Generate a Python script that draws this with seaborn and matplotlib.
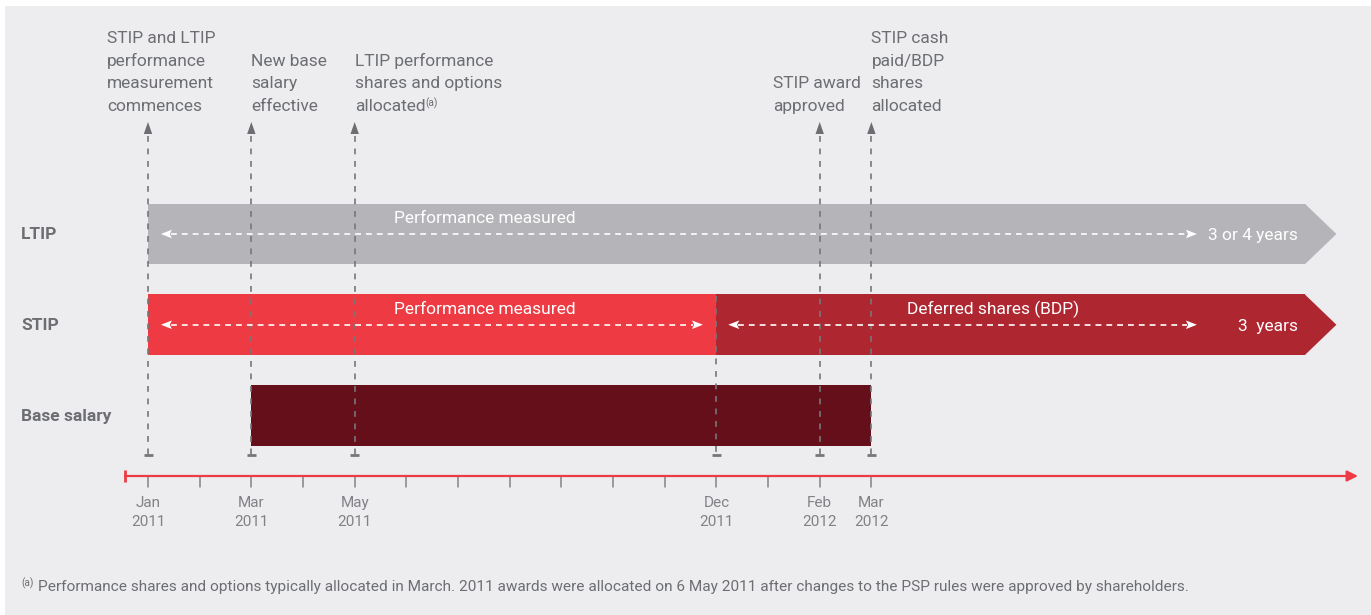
import matplotlib
matplotlib.use("Agg")
import matplotlib.pyplot as plt
from matplotlib import font_manager
from matplotlib.patches import Polygon, Rectangle
import seaborn as sns

# ---------------- data ----------------
rows = ["LTIP", "STIP", "Base salary"]

bar_rows = ["LTIP", "STIP", "STIP", "Base salary"]
bar_start = [0, 0, 11, 2]            # months after Jan 2011
bar_end = [22.4, 11, 22.4, 14]
bar_chevron = [True, False, True, False]
bar_colors = ["#B5B4B8", "#EE3A43", "#AE2630", "#650F1A"]
bar_labels = ["Performance measured", "Performance measured", "Deferred shares (BDP)", ""]
bar_label_x = [6.52, 6.52, 16.36, 0]

span_rows = ["LTIP", "STIP", "STIP"]
span_start = [0.25, 0.25, 11.23]
span_end = [20.3, 10.74, 20.3]

duration_rows = ["LTIP", "STIP"]
duration_labels = ["3 or 4 years", "3  years"]
duration_x = [22.26, 22.26]

event_months = [0, 2, 4, 13, 14]
event_labels = [
    "STIP and LTIP\nperformance\nmeasurement\ncommences",
    "New base\nsalary\neffective",
    "LTIP performance\nshares and options\nallocated",
    "STIP award\napproved",
    "STIP cash\npaid/BDP\nshares\nallocated",
]
event_sup = ["", "", "(a)", "", ""]
event_text_dx = [-41, 0, 0, -47, 0]   # px offset of text from its event line

split_month = 11   # Dec 2011: STIP performance ends / deferral begins

tick_months = list(range(15))
tick_labels = ["Jan\n2011", "", "Mar\n2011", "", "May\n2011", "", "", "", "", "", "",
               "Dec\n2011", "", "Feb\n2012", "Mar\n2012"]

footnote_mark = "(a)"
footnote = ("Performance shares and options typically allocated in March. 2011 awards were "
            "allocated on 6 May 2011 after changes to the PSP rules were approved by shareholders.")

# ---------------- style ----------------
sns.set_theme(style="white")
names = {f.name for f in font_manager.fontManager.ttflist}
if "Liberation Sans Narrow" in names:
    FONT, SC = "Liberation Sans Narrow", 1.0
else:
    FONT, SC = "Roboto", 0.86
plt.rcParams["font.family"] = [FONT, "DejaVu Sans"]

BG = "#EDEDF0"
TXT = "#6D6E71"
TICK_TXT = "#808285"
LINE = "#76777A"
RED = "#EE3A43"

W, H = 1371, 615
fig = plt.figure(figsize=(W / 100, H / 100), dpi=100, facecolor="white")
fig.patches.append(Rectangle((5 / W, 0), 1, (H - 6) / H, transform=fig.transFigure,
                             facecolor=BG, edgecolor="none", zorder=-10))
ax = fig.add_axes([0, 0, 1, 1])
ax.set_facecolor("none")
ax.set_zorder(5)
ax.axis("off")

X0, XS = 148, 51.67
RY0, RS = 234, 90.75
def mx(px): return (px - X0) / XS
def dmx(px): return px / XS
def ry(py): return (py - RY0) / RS
def dry(py): return py / RS

ax.set_xlim(mx(0), mx(W))
ax.set_ylim(ry(H), ry(0))
ridx = {r: i for i, r in enumerate(rows)}

# row labels
for r in rows:
    ax.text(mx(21), ridx[r] + dry(1), r, ha="left", va="center", fontsize=14.5 * SC,
            fontweight="bold", color=TXT)

# bars
bh = dry(60.5)
for r, s, e, chev, c in zip(bar_rows, bar_start, bar_end, bar_chevron, bar_colors):
    y = ridx[r]
    ax.barh(y, e - s, left=s, height=bh, color=c, edgecolor="none", zorder=2)
    if chev:
        ax.add_patch(Polygon([(e - 0.01, y - bh / 2), (e + dmx(31), y), (e - 0.01, y + bh / 2)],
                             closed=True, facecolor=c, edgecolor="none", zorder=2))

for r, lab, lx in zip(bar_rows, bar_labels, bar_label_x):
    if lab:
        ax.text(lx, ridx[r] - dry(10.5), lab, color="white", ha="center", va="baseline",
                fontsize=14.5 * SC, zorder=6)

# white dashed period arrows
def head(xtip, y, direction, color, zorder):
    L, hh = dmx(11), dry(4.3)
    ax.add_patch(Polygon([(xtip, y), (xtip - direction * L, y - hh), (xtip - direction * L * 0.8, y),
                          (xtip - direction * L, y + hh)], closed=True,
                         facecolor=color, edgecolor="none", zorder=zorder))

for r, s, e in zip(span_rows, span_start, span_end):
    y = ridx[r]
    ax.plot([s + dmx(10), e - dmx(10)], [y, y], color="white", lw=1.2,
            ls=(0, (3.5, 3)), zorder=6)
    head(s, y, -1, "white", 6)
    head(e, y, 1, "white", 6)

for r, lab, dx in zip(duration_rows, duration_labels, duration_x):
    ax.text(dx, ridx[r] + dry(6.5), lab, color="white", ha="right", va="baseline",
            fontsize=14.5 * SC, zorder=6)

# event lines
for m in event_months:
    ax.plot([m, m], [ry(136), ry(455)], color=LINE, lw=1.2, ls=(0, (3.5, 4)), zorder=5)
    ax.add_patch(Polygon([(m, ry(122)), (m - dmx(4.2), ry(134)), (m + dmx(4.2), ry(134))],
                         closed=True, facecolor=TXT, edgecolor="none", zorder=5))
ax.plot([split_month, split_month], [ry(296), ry(455)], color=LINE, lw=1.2,
        ls=(0, (3.5, 4)), zorder=5)
for m in event_months + [split_month]:
    ax.plot([m - dmx(4.5), m + dmx(4.5)], [ry(455), ry(455)], color=LINE, lw=2,
            solid_capstyle="butt", zorder=5)

# event texts
for m, lab, sup, dx in zip(event_months, event_labels, event_sup, event_text_dx):
    lines = lab.split("\n")
    n = len(lines)
    for k, line in enumerate(lines):
        t = ax.text(m + dmx(dx), ry(111 - (n - 1 - k) * 22.6), line, ha="left",
                    va="baseline", fontsize=14.5 * SC, color=TXT)
    if sup:
        ax.annotate(sup, xy=(1.0, 1.08), xycoords=t, ha="left", va="top",
                    fontsize=8.5 * SC, color=TXT)

# time axis
ya = ry(476)
ax.annotate("", xy=(mx(1358), ya), xytext=(mx(125), ya),
            arrowprops=dict(arrowstyle="-|>", color=RED, lw=1.6, mutation_scale=16,
                            shrinkA=0, shrinkB=0))
ax.plot([mx(125), mx(125)], [ry(470), ry(482)], color=RED, lw=2, solid_capstyle="butt")
for m, lab in zip(tick_months, tick_labels):
    ax.plot([m, m], [ry(477), ry(487)], color=TICK_TXT, lw=1.1)
    if lab:
        l1, l2 = lab.split("\n")
        ax.text(m, ry(507), l1, ha="center", va="baseline", fontsize=12.8 * SC, color=TICK_TXT)
        ax.text(m, ry(526), l2, ha="center", va="baseline", fontsize=12.8 * SC, color=TICK_TXT)

# footnote
ft = ax.text(mx(38), ry(591), footnote, ha="left", va="baseline", fontsize=12.87 * SC, color=TXT)
ax.text(mx(21), ry(586), footnote_mark, ha="left", va="baseline", fontsize=8.5 * SC, color=TXT)

fig.savefig("out.png", dpi=100, facecolor="white")
